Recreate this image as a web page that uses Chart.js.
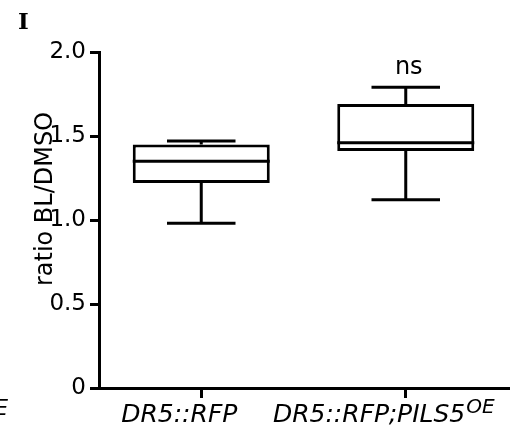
<!DOCTYPE html>
<html><head><meta charset="utf-8">
<script src="https://cdn.jsdelivr.net/npm/chart.js@4/dist/chart.umd.min.js"></script>
<style>html,body{margin:0;padding:0;background:#fff;} canvas{display:block;}</style>
</head><body>
<canvas id="c" width="519" height="432"></canvas>
<script>
// ---- data ----
const categories = ['DR5::RFP', 'DR5::RFP;PILS5'];
const categorySuperscripts = ['', 'OE'];
const whiskerMin = [0.98, 1.12];
const q1Values = [1.22, 1.41];
const medianValues = [1.35, 1.46];
const q3Values = [1.45, 1.69];
const whiskerMax = [1.47, 1.79];
const significance = ['', 'ns'];
const yTicks = [0, 0.5, 1.0, 1.5, 2.0];
const yTickLabels = ['0', '0.5', '1.0', '1.5', '2.0'];
const yAxisTitle = 'ratio BL/DMSO';
const panelLetter = 'I';

const FONT = '"DejaVu Sans", Verdana, sans-serif';

const boxPlugin = {
  id: 'boxWhiskers',
  afterDatasetsDraw(chart) {
    const { ctx, scales: { x, y } } = chart;
    const meta = chart.getDatasetMeta(0);
    ctx.save();
    ctx.strokeStyle = '#000';
    ctx.lineWidth = 3;
    ctx.lineCap = 'butt';
    categories.forEach((c, i) => {
      const bar = meta.data[i];
      const cx = x.getPixelForValue(i);
      const half = bar.width / 2;
      const capHalf = bar.width / 4;
      const yMin = y.getPixelForValue(whiskerMin[i]);
      const yQ1 = y.getPixelForValue(q1Values[i]);
      const yMed = y.getPixelForValue(medianValues[i]);
      const yQ3 = y.getPixelForValue(q3Values[i]);
      const yMax = y.getPixelForValue(whiskerMax[i]);
      ctx.beginPath();
      ctx.moveTo(cx - half, yMed); ctx.lineTo(cx + half, yMed);
      ctx.moveTo(cx, yQ3); ctx.lineTo(cx, yMax);
      ctx.moveTo(cx - capHalf, yMax); ctx.lineTo(cx + capHalf, yMax);
      ctx.moveTo(cx, yQ1); ctx.lineTo(cx, yMin);
      ctx.moveTo(cx - capHalf, yMin); ctx.lineTo(cx + capHalf, yMin);
      ctx.stroke();
      if (significance[i]) {
        ctx.fillStyle = '#000';
        ctx.font = '24px ' + FONT;
        ctx.textAlign = 'center';
        ctx.textBaseline = 'alphabetic';
        ctx.fillText(significance[i], cx + 3, yMax - 13);
      }
    });
    ctx.restore();
  },
  afterDraw(chart) {
    const { ctx, scales: { x, y } } = chart;
    ctx.save();
    ctx.fillStyle = '#000';
    ctx.textBaseline = 'alphabetic';
    categories.forEach((c, i) => {
      const cx = x.getPixelForValue(i);
      const mainFont = 'italic 25px ' + FONT;
      const supFont = 'italic 20px ' + FONT;
      ctx.font = mainFont;
      const mainW = ctx.measureText(c).width;
      let supW = 0, gap = 0;
      if (categorySuperscripts[i]) {
        ctx.font = supFont;
        supW = ctx.measureText(categorySuperscripts[i]).width;
        gap = 1;
      }
      const total = mainW + gap + supW;
      const left = cx - 22 - total / 2;
      ctx.textAlign = 'left';
      ctx.font = mainFont;
      ctx.fillText(c, left, x.top + 34);
      if (categorySuperscripts[i]) {
        ctx.font = supFont;
        ctx.fillText(categorySuperscripts[i], left + mainW + gap, x.top + 25);
      }
    });
    ctx.save();
    ctx.font = '24px ' + FONT;
    ctx.translate(52, (y.top + y.bottom) / 2 - 21);
    ctx.rotate(-Math.PI / 2);
    ctx.textAlign = 'center';
    ctx.fillText(yAxisTitle, 0, 0);
    ctx.restore();
    ctx.font = 'bold 23px "DejaVu Serif", "Liberation Serif", serif';
    ctx.textAlign = 'left';
    ctx.fillText(panelLetter, 18, 29);
    ctx.font = 'italic 21px ' + FONT;
    ctx.textAlign = 'right';
    ctx.fillText('E', 8, 415);
    ctx.restore();
  }
};

new Chart(document.getElementById('c'), {
  type: 'bar',
  data: {
    labels: categories,
    datasets: [{
      data: categories.map((_, i) => [q1Values[i], q3Values[i]]),
      backgroundColor: '#ffffff',
      borderColor: '#000000',
      borderWidth: 3,
      borderSkipped: false,
      barPercentage: 0.67,
      categoryPercentage: 1
    }]
  },
  options: {
    responsive: false,
    animation: false,
    events: [],
    layout: { padding: { top: 52, right: 11, bottom: 0, left: 0 } },
    plugins: { legend: { display: false }, tooltip: { enabled: false }, title: { display: false } },
    scales: {
      x: {
        type: 'category',
        offset: true,
        grid: { display: true, drawOnChartArea: false, drawTicks: true, tickLength: 10, lineWidth: 3, color: '#000', offset: false },
        border: { display: true, width: 3, color: '#000' },
        ticks: { display: false },
        afterFit: s => { s.height = 44; }
      },
      y: {
        min: 0,
        max: 2,
        afterBuildTicks: s => { s.ticks = yTicks.map(v => ({ value: v })); },
        ticks: {
          callback: (v) => yTickLabels[yTicks.indexOf(v)],
          font: { family: FONT, size: 23 },
          color: '#000',
          padding: 4
        },
        grid: { display: true, drawOnChartArea: false, drawTicks: true, tickLength: 9, lineWidth: 3, color: '#000' },
        border: { display: true, width: 3, color: '#000' },
        afterFit: s => { s.width = 99; }
      }
    }
  },
  plugins: [boxPlugin]
});
</script>
</body></html>
